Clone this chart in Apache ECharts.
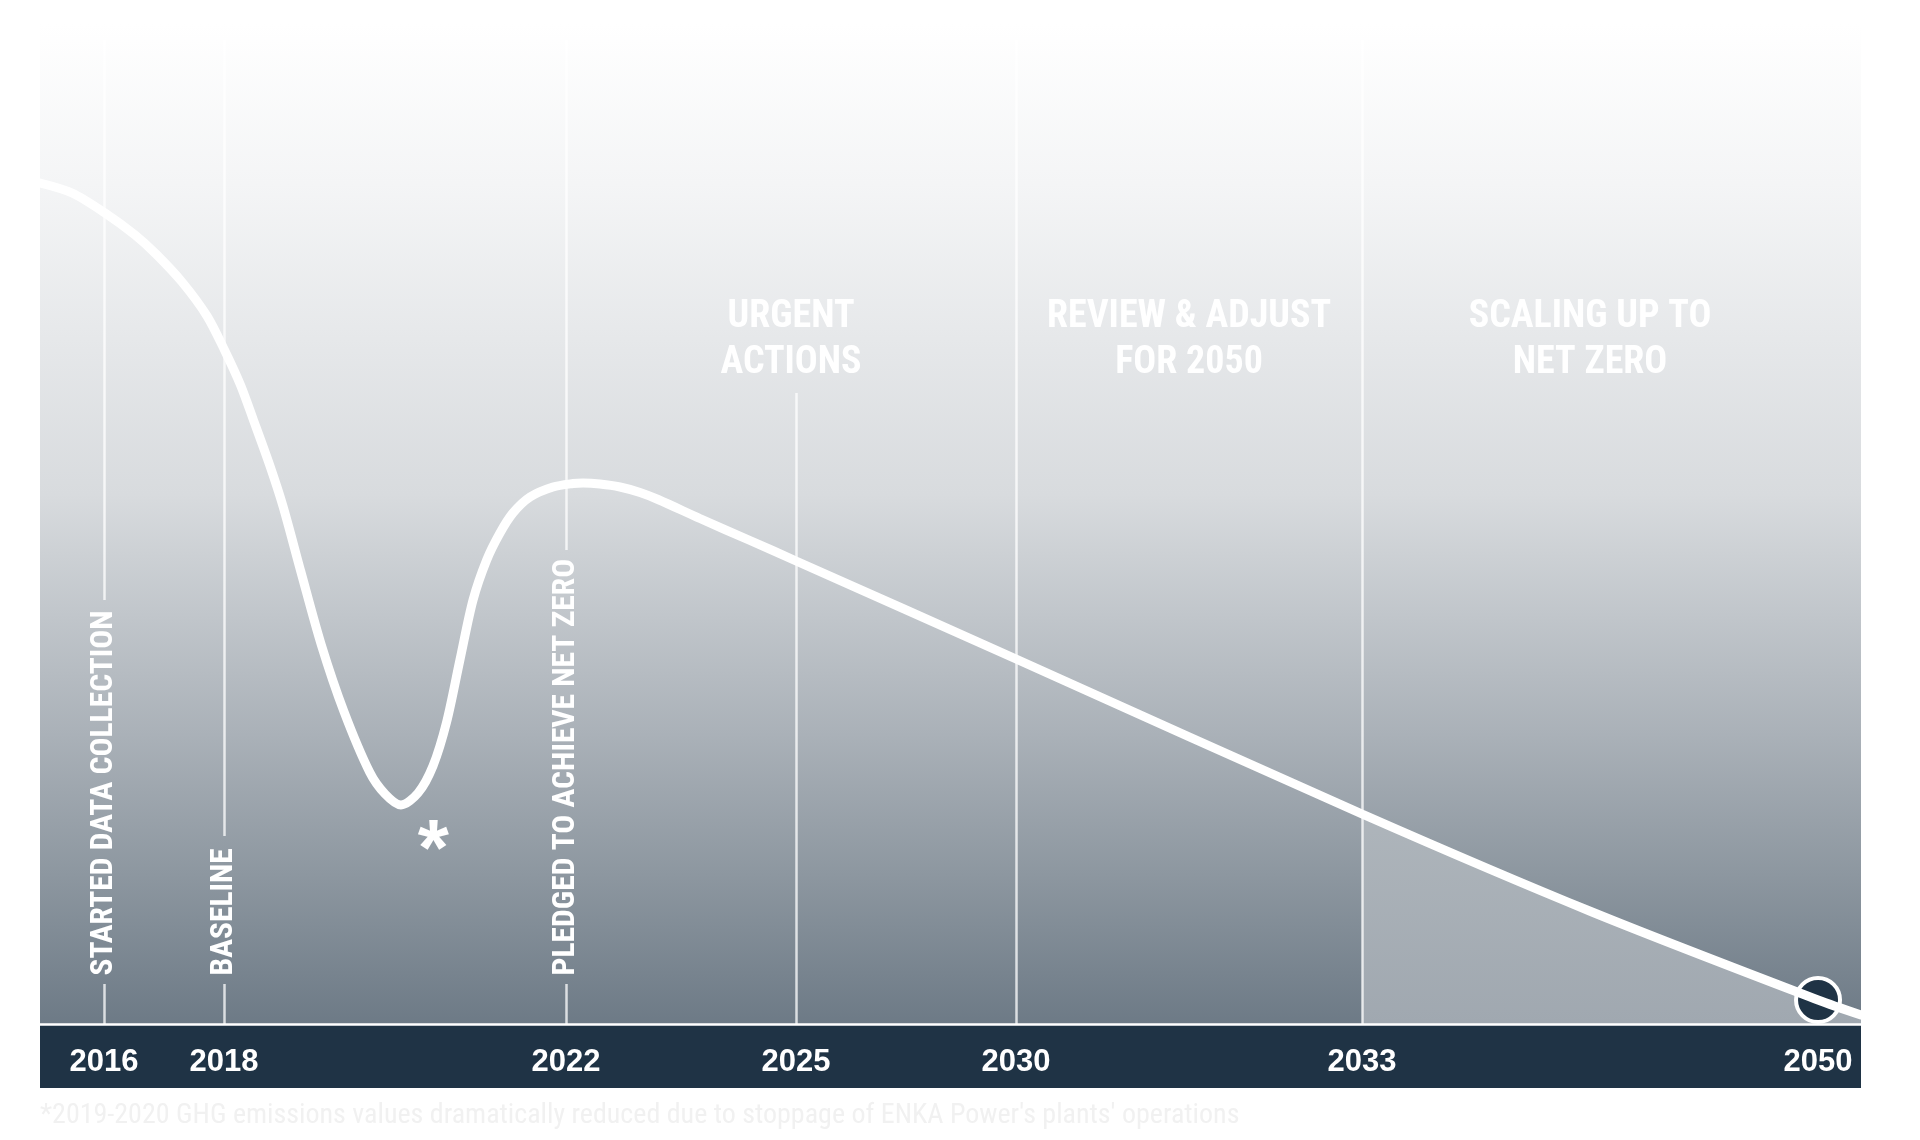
<!DOCTYPE html>
<html>
<head>
<meta charset="utf-8">
<script src="https://cdn.jsdelivr.net/npm/echarts@6/dist/echarts.min.js"></script>
<style>
html,body{margin:0;padding:0;background:#ffffff;}
#chart{width:1920px;height:1140px;}
</style>
</head>
<body>
<div id="chart"></div>
<script>
// ---------- data ----------
const years = ['2016', '2018', '2022', '2025', '2030', '2033', '2050'];
// position of each milestone along the timeline (0 = start, 100 = end)
const yearPos = [3.51, 10.10, 28.89, 41.52, 53.60, 72.60, 97.64];

// emissions path (relative index, 0-100)
const curveX = [0, 1.76, 3.57, 5.22, 6.37, 7.80, 9.17, 10.13, 11.01, 11.70, 12.63, 13.34, 14.33, 15.45, 16.68, 18.10, 18.95, 19.82,
                20.76, 21.58, 22.33, 23.06, 23.78, 24.53, 25.26, 25.97, 26.91, 28.17, 29.27, 29.82, 30.75, 31.85, 32.95, 33.94,
                36.24, 38.99, 41.52, 53.60, 72.60, 85.23, 97.64, 100];
const curveY = [84.1, 83.1, 81.1, 78.9, 77.0, 74.2, 70.8, 67.4, 63.9, 60.5, 55.8, 51.8, 45.2, 37.9, 31.3, 25.2, 23.0, 21.9,
                23.1, 25.8, 30.2, 36.4, 42.4, 46.4, 49.1, 51.1, 52.7, 53.7, 54.05, 54.1, 54.0, 53.7, 53.15, 52.45,
                50.55, 48.35, 46.3, 36.5, 21.0, 11.2, 2.4, 0.9];

const milestoneNames = ['STARTED DATA COLLECTION', 'BASELINE', 'PLEDGED TO ACHIEVE NET ZERO'];
const milestoneYears = ['2016', '2018', '2022'];

const phaseNames = ['URGENT\nACTIONS', 'REVIEW & ADJUST\nFOR 2050', 'SCALING UP TO\nNET ZERO'];
const phaseFrom = ['2022', '2030', '2033'];
const phaseTo = ['2030', '2033', '2050'];

const targetYear = '2050';
const dipNoteX = 21.6, dipNoteY = 18.7;   // "*" marker next to the 2019-2020 dip
const footnote = "*2019-2020 GHG emissions values dramatically reduced due to stoppage of ENKA Power's plants' operations";

// ---------- helpers ----------
const posOf = y => yearPos[years.indexOf(y)];
const curve = curveX.map((x, i) => [x, curveY[i]]);
const highlightStart = posOf('2033');
const highlight = curve.filter(p => p[0] >= highlightStart);
const targetPoint = curve.find(p => p[0] === posOf(targetYear));

const NARROW = "'Liberation Sans Narrow', 'Roboto Condensed', 'DejaVu Sans Condensed', 'Liberation Sans', sans-serif";
const LINE_COL = 'rgba(255,255,255,0.75)';

// vertical guide segments [year, yFrom, yTo]
const guides = [
  ['2016', 0, 4.0], ['2016', 42.4, 98.4],
  ['2018', 0, 4.0], ['2018', 18.8, 98.4],
  ['2022', 0, 4.0], ['2022', 47.4, 98.4],
  ['2025', 0, 63.1],
  ['2030', 0, 98.4],
  ['2033', 0, 98.4]
];

const chart = echarts.init(document.getElementById('chart'));

const option = {
  animation: false,
  backgroundColor: '#ffffff',
  title: {
    text: footnote,
    left: 40,
    top: 1102,
    padding: 0,
    textStyle: { color: '#f1f1f1', fontSize: 28, fontWeight: 'normal', fontFamily: NARROW }
  },
  grid: {
    left: 40, right: 59, top: 24, bottom: 116,
    show: true,
    borderWidth: 0,
    backgroundColor: new echarts.graphic.LinearGradient(0, 0, 0, 1, [
      { offset: 0, color: '#ffffff' },
      { offset: 0.16, color: '#f4f5f6' },
      { offset: 0.47, color: '#d8dbde' },
      { offset: 0.71, color: '#aab1b8' },
      { offset: 0.85, color: '#8d97a0' },
      { offset: 1, color: '#6d7a86' }
    ])
  },
  graphic: [{
    type: 'rect',
    z: 1,
    shape: { x: 40, y: 1025, width: 1821, height: 63 },
    style: { fill: '#1f3345' }
  }],
  xAxis: {
    type: 'value',
    min: 0, max: 100,
    z: 10,
    splitLine: { show: false },
    axisTick: { show: false },
    axisLine: { show: true, onZero: false, lineStyle: { color: '#ffffff', width: 2.5 } },
    axisLabel: {
      customValues: yearPos,
      formatter: v => years[yearPos.indexOf(v)],
      color: '#ffffff',
      fontSize: 31,
      fontWeight: 'bold',
      fontFamily: "'Liberation Sans', Arial, sans-serif",
      margin: 23,
      showMinLabel: true,
      showMaxLabel: true,
      hideOverlap: false
    }
  },
  yAxis: {
    type: 'value', min: 0, max: 100, show: false
  },
  series: [
    {
      name: 'Scaling up area',
      type: 'line',
      data: highlight,
      smooth: 0.3,
      symbol: 'none',
      z: 2,
      silent: true,
      lineStyle: { width: 0, opacity: 0 },
      areaStyle: {
        opacity: 1,
        color: new echarts.graphic.LinearGradient(0, 0, 0, 1, [
          { offset: 0, color: '#aeb5bb' },
          { offset: 1, color: '#a0a8b0' }
        ])
      }
    },
    {
      name: 'Guides',
      type: 'line',
      data: [],
      z: 3,
      silent: true,
      markLine: {
        silent: true,
        symbol: 'none',
        label: { show: false },
        lineStyle: { color: LINE_COL, width: 2.5, type: 'solid' },
        data: guides.map(g => [
          { coord: [posOf(g[0]), g[1]] },
          { coord: [posOf(g[0]), g[2]] }
        ])
      },
      markArea: {
        silent: true,
        itemStyle: { color: 'rgba(0,0,0,0)' },
        label: {
          show: true,
          position: 'inside',
          color: '#ffffff',
          fontSize: 38,
          lineHeight: 46,
          fontWeight: 'bold',
          fontFamily: NARROW,
          align: 'center'
        },
        data: phaseNames.map((n, i) => [
          { name: n, coord: [posOf(phaseFrom[i]), 77.3] },
          { coord: [posOf(phaseTo[i]), 59.5] }
        ])
      },
      markPoint: {
        silent: true,
        symbol: 'circle',
        symbolSize: 2,
        itemStyle: { color: 'rgba(0,0,0,0)' },
        label: {
          show: true,
          position: 'inside',
          rotate: 90,
          align: 'left',
          verticalAlign: 'middle',
          color: '#ffffff',
          fontSize: 31.5,
          fontWeight: 'bold',
          fontFamily: NARROW,
          formatter: p => p.name
        },
        data: milestoneNames.map((n, i) => ({
          name: n,
          coord: [posOf(milestoneYears[i]), 4.85]
        })).concat([{
          name: '*',
          coord: [dipNoteX, dipNoteY],
          label: { rotate: 0, align: 'center', fontSize: 80, fontFamily: "'Liberation Sans', Arial, sans-serif", offset: [0, 16] }
        }])
      }
    },
    {
      name: 'GHG emissions',
      type: 'line',
      data: curve,
      smooth: 0.3,
      symbol: 'none',
      clip: true,
      z: 5,
      lineStyle: { color: '#ffffff', width: 9, cap: 'round' },
      markPoint: {
        symbol: 'circle',
        symbolSize: 44,
        itemStyle: { color: '#1f3345', borderColor: '#ffffff', borderWidth: 4 },
        label: { show: false },
        data: [{ coord: targetPoint }]
      }
    }
  ]
};

chart.setOption(option);
</script>
</body>
</html>
